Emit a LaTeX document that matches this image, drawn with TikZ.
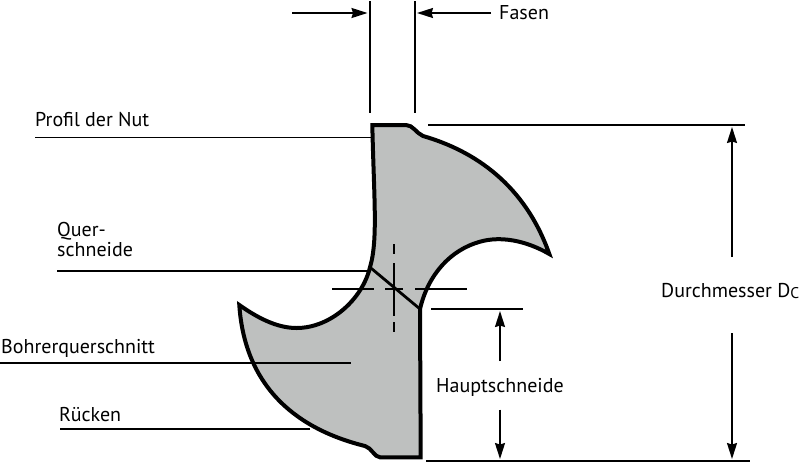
\documentclass[tikz,border=0pt]{standalone}
\usepackage{fontspec}
\setmainfont{PT Sans}
\usepackage{tikz}
\usetikzlibrary{arrows.meta}
\definecolor{bohrergrau}{RGB}{190,192,191}
\tikzset{
  leader/.style={line width=1.8pt},
  mittellinie/.style={line width=1.8pt},
  masspfeil/.style={line width=1.8pt, -{Stealth[length=16pt, width=10pt, inset=1.5pt]}},
  beschriftung/.style={inner sep=0pt, anchor=base west, font=\fontsize{20}{20.7}\selectfont, align=left},
}
\begin{document}
\begin{tikzpicture}[x=1pt, y=-1pt]
      \useasboundingbox (0, 0) rectangle (800, 464);

      % Querschnitt
      \draw[fill=bohrergrau, line width=4pt, line join=miter, miter limit=10]
        (372.3, 125) -- (406, 125) .. controls (413, 125) and (416, 133) .. (423, 136)
        .. controls (475, 151) and (525, 185) .. (549.3, 254)
        .. controls (525, 240) and (500, 236) .. (480, 241.7)
        .. controls (450, 250) and (428, 275) .. (420, 309)
        -- (420.7, 457.3) -- (380, 457.3)
        .. controls (374, 457) and (372, 448) .. (365, 446)
        .. controls (300, 430) and (245, 390) .. (239.3, 305)
        .. controls (262, 321) and (280, 328) .. (296.7, 328)
        .. controls (330, 328) and (362, 300) .. (370, 267.3)
        .. controls (378, 240) and (374, 200) .. (372.3, 125) -- cycle;
      \coordinate (kanteA) at (370, 267.3);
      \coordinate (kanteB) at (420, 309);
      \draw[line width=2.8pt] (kanteA) -- (kanteB);

      % Mittellinien
      \coordinate (v1) at (394.3, 244);
      \coordinate (v2) at (394.3, 254);
      \coordinate (v3) at (394.3, 263);
      \coordinate (v4) at (394.3, 315.5);
      \coordinate (v5) at (394.3, 322);
      \coordinate (v6) at (394.3, 332);
      \draw[mittellinie] (v1) -- (v2);
      \draw[mittellinie] (v3) -- (v4);
      \draw[mittellinie] (v5) -- (v6);
      \coordinate (h1) at (332, 289);
      \coordinate (h2) at (373.5, 289);
      \coordinate (h3) at (385, 289);
      \coordinate (h4) at (402.5, 289);
      \coordinate (h5) at (415, 289);
      \coordinate (h6) at (466.5, 289);
      \draw[mittellinie] (h1) -- (h2);
      \draw[mittellinie] (h3) -- (h4);
      \draw[mittellinie] (h5) -- (h6);

      % Fasen
      \coordinate (fa1) at (369.7, 1);
      \coordinate (fa2) at (369.7, 113);
      \coordinate (fb1) at (415, 1);
      \coordinate (fb2) at (415, 113);
      \draw[leader] (fa1) -- (fa2);
      \draw[leader] (fb1) -- (fb2);
      \coordinate (fp1) at (292, 13);
      \coordinate (fp2) at (367.5, 13);
      \coordinate (fp3) at (491, 13);
      \coordinate (fp4) at (417, 13);
      \draw[masspfeil] (fp1) -- (fp2);
      \draw[masspfeil] (fp3) -- (fp4);
      \node[beschriftung] (fasen) at (499, 19.5){Fasen};

      % Durchmesser
      \coordinate (d1) at (428, 125);
      \coordinate (d2) at (745, 125);
      \coordinate (d3) at (426, 460.7);
      \coordinate (d4) at (750, 460.7);
      \draw[leader] (d1) -- (d2);
      \draw[leader] (d3) -- (d4);
      \coordinate (dp1) at (732, 257);
      \coordinate (dp2) at (732, 127);
      \coordinate (dp3) at (732, 333);
      \coordinate (dp4) at (732, 459);
      \draw[masspfeil] (dp1) -- (dp2);
      \draw[masspfeil] (dp3) -- (dp4);
      \node[beschriftung] (durchmesser) at (661, 297){Durchmesser D\raisebox{-1.5pt}{\fontsize{15.5}{15.5}\selectfont C}};

      % Hauptschneide
      \coordinate (s1) at (431, 309);
      \coordinate (s2) at (523, 309);
      \draw[leader] (s1) -- (s2);
      \coordinate (sp1) at (500, 361);
      \coordinate (sp2) at (500, 311);
      \coordinate (sp3) at (500, 409.5);
      \coordinate (sp4) at (500, 459);
      \draw[masspfeil] (sp1) -- (sp2);
      \draw[masspfeil] (sp3) -- (sp4);
      \node[beschriftung] (hauptschneide) at (436, 392.5){Hauptschneide};

      % Bezugslinien
      \node[beschriftung] (profil) at (35, 126.7){Profil der Nut};
      \coordinate (p1) at (35, 137.5);
      \coordinate (p2) at (372, 137.5);
      \draw[leader] (p1) -- (p2);
      \node[beschriftung] (quer) at (57, 256.7){Quer-\\schneide};
      \coordinate (q1) at (57, 271);
      \coordinate (q2) at (368, 271);
      \draw[leader] (q1) -- (q2);
      \node[beschriftung] (querschnitt) at (1, 353){Bohrerquerschnitt};
      \coordinate (b1) at (0, 363);
      \coordinate (b2) at (351, 363);
      \draw[leader] (b1) -- (b2);
      \node[beschriftung] (ruecken) at (59, 421.5){Rücken};
      \coordinate (r1) at (60, 428.7);
      \coordinate (r2) at (310, 428.7);
      \draw[leader] (r1) -- (r2);
    \end{tikzpicture}
\end{document}
